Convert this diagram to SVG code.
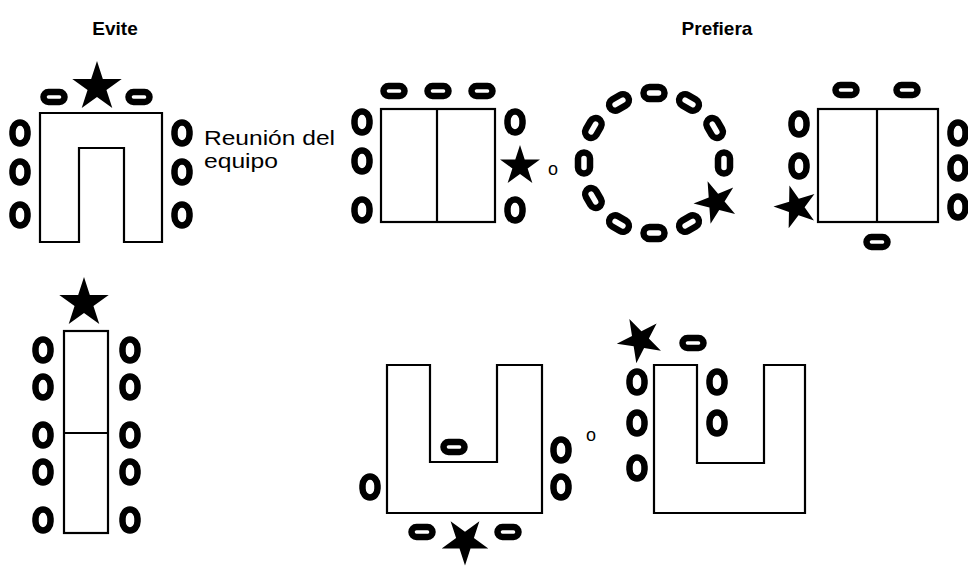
<svg xmlns="http://www.w3.org/2000/svg" xmlns:xlink="http://www.w3.org/1999/xlink" width="968" height="566" viewBox="0 0 968 566">
  <style>
    .table { fill: #fff; stroke: #000; stroke-width: 2.2; stroke-linejoin: miter; }
    .div { stroke: #000; stroke-width: 2.2; fill: none; }
    .seat { fill: #fff; stroke: #000; stroke-width: 6.5; }
    .star { fill: #000; stroke: none; }
    .title { font-family: "Liberation Sans", Arial, sans-serif; font-weight: bold; font-size: 19px; fill: #000; text-anchor: middle; }
    .label { font-family: "Liberation Sans", Arial, sans-serif; font-size: 21px; fill: #000; }
    .or { font-family: "Liberation Sans", Arial, sans-serif; font-size: 18px; fill: #000; text-anchor: middle; }
  </style>
  <defs>
    <!-- chair seen from above, long side horizontal -->
    <rect id="seat-h" class="seat" x="-10.5" y="-5" width="21" height="10" rx="5"/>
    <!-- chair seen from above, long side vertical -->
    <rect id="seat-v" class="seat" x="-7.5" y="-10.5" width="15" height="21" rx="7.5" ry="9"/>
    <!-- chair in the round arrangement (rotated per position) -->
    <rect id="seat-r" class="seat" x="-10.5" y="-6" width="21" height="12" rx="6"/>
    <!-- five-pointed star, outer radius 10 -->
    <path id="star" class="star" d="M0,-10 L2.245,-3.09 L9.511,-3.09 L3.633,1.18 L5.878,8.09 L0,3.82 L-5.878,8.09 L-3.633,1.18 L-9.511,-3.09 L-2.245,-3.09 Z"/>
  </defs>

  <!-- column headings -->
  <text class="title" x="115" y="35">Evite</text>
  <text class="title" x="717" y="35">Prefiera</text>

  <!-- open U table, leader at the closed end -->
  <g id="avoid-u">
    <path class="table" d="M40,113 H162 V242 H124 V148 H79 V242 H40 Z"/>
    <use xlink:href="#seat-h" x="54" y="97"/>
    <use xlink:href="#seat-h" x="139" y="97"/>
    <use xlink:href="#seat-v" x="20" y="133"/>
    <use xlink:href="#seat-v" x="20" y="172"/>
    <use xlink:href="#seat-v" x="20" y="215"/>
    <use xlink:href="#seat-v" x="182" y="133"/>
    <use xlink:href="#seat-v" x="182" y="172"/>
    <use xlink:href="#seat-v" x="182" y="215"/>
    <use xlink:href="#star" transform="translate(97,87) scale(2.6)"/>
  </g>

  <g id="team-label">
    <text class="label" x="204" y="145" textLength="131" lengthAdjust="spacingAndGlyphs">Reunión del</text>
    <text class="label" x="204" y="168" textLength="74" lengthAdjust="spacingAndGlyphs">equipo</text>
  </g>

  <!-- square table, leader at the side -->
  <g id="prefer-square">
    <rect class="table" x="381" y="109" width="114" height="113"/>
    <line class="div" x1="437" y1="109" x2="437" y2="222"/>
    <use xlink:href="#seat-h" x="394" y="91"/>
    <use xlink:href="#seat-h" x="438" y="91"/>
    <use xlink:href="#seat-h" x="482" y="91"/>
    <use xlink:href="#seat-v" x="362" y="122"/>
    <use xlink:href="#seat-v" x="362" y="161"/>
    <use xlink:href="#seat-v" x="362" y="210"/>
    <use xlink:href="#seat-v" x="515" y="122"/>
    <use xlink:href="#seat-v" x="515" y="210"/>
    <use xlink:href="#star" transform="translate(520,166) scale(2.1)"/>
  </g>
  <text class="or" x="553" y="175">o</text>

  <!-- round arrangement -->
  <g id="prefer-circle">
    <use xlink:href="#seat-r" transform="translate(654,93) rotate(0)"/>
    <use xlink:href="#seat-r" transform="translate(619,102.4) rotate(-30)"/>
    <use xlink:href="#seat-r" transform="translate(689,102.4) rotate(30)"/>
    <use xlink:href="#seat-r" transform="translate(593.4,128) rotate(-60)"/>
    <use xlink:href="#seat-r" transform="translate(714.6,128) rotate(60)"/>
    <use xlink:href="#seat-r" transform="translate(584,163) rotate(90)"/>
    <use xlink:href="#seat-r" transform="translate(724,163) rotate(90)"/>
    <use xlink:href="#seat-r" transform="translate(593.4,198) rotate(60)"/>
    <use xlink:href="#seat-r" transform="translate(619,223.6) rotate(30)"/>
    <use xlink:href="#seat-r" transform="translate(654,233) rotate(0)"/>
    <use xlink:href="#seat-r" transform="translate(689,223.6) rotate(-30)"/>
    <use xlink:href="#star" transform="translate(716,202) rotate(-22) scale(2.25)"/>
  </g>

  <!-- square table, leader at a corner -->
  <g id="prefer-square-corner">
    <rect class="table" x="818" y="109" width="120" height="113"/>
    <line class="div" x1="877" y1="109" x2="877" y2="222"/>
    <use xlink:href="#seat-h" x="846" y="90"/>
    <use xlink:href="#seat-h" x="907" y="90"/>
    <use xlink:href="#seat-h" x="877" y="242"/>
    <use xlink:href="#seat-v" x="799" y="124"/>
    <use xlink:href="#seat-v" x="799" y="166"/>
    <use xlink:href="#seat-v" x="958" y="133"/>
    <use xlink:href="#seat-v" x="958" y="168"/>
    <use xlink:href="#seat-v" x="958" y="207"/>
    <use xlink:href="#star" transform="translate(796,207) rotate(-17) scale(2.25)"/>
  </g>

  <!-- long table, leader at the head -->
  <g id="avoid-long">
    <rect class="table" x="64" y="331" width="44" height="202"/>
    <line class="div" x1="64" y1="433" x2="108" y2="433"/>
    <use xlink:href="#star" transform="translate(84,303) scale(2.6)"/>
    <use xlink:href="#seat-v" x="43" y="350"/>
    <use xlink:href="#seat-v" x="43" y="387"/>
    <use xlink:href="#seat-v" x="43" y="435"/>
    <use xlink:href="#seat-v" x="43" y="472"/>
    <use xlink:href="#seat-v" x="43" y="520"/>
    <use xlink:href="#seat-v" x="130" y="350"/>
    <use xlink:href="#seat-v" x="130" y="387"/>
    <use xlink:href="#seat-v" x="130" y="435"/>
    <use xlink:href="#seat-v" x="130" y="472"/>
    <use xlink:href="#seat-v" x="130" y="520"/>
  </g>

  <!-- U table, leader outside the base -->
  <g id="prefer-u-base">
    <path class="table" d="M387,365 H430 V462 H497 V365 H542 V513 H387 Z"/>
    <use xlink:href="#seat-h" x="454" y="447"/>
    <use xlink:href="#seat-v" x="370" y="487"/>
    <use xlink:href="#seat-v" x="561" y="450"/>
    <use xlink:href="#seat-v" x="561" y="487"/>
    <use xlink:href="#seat-h" x="422" y="532"/>
    <use xlink:href="#seat-h" x="508" y="532"/>
    <use xlink:href="#star" transform="translate(465,541) rotate(180) scale(2.45)"/>
  </g>
  <text class="or" x="591" y="441">o</text>

  <!-- U table, leader at an arm -->
  <g id="prefer-u-arm">
    <path class="table" d="M654,365 H697 V463 H764 V365 H805 V513 H654 Z"/>
    <use xlink:href="#seat-h" x="693" y="343"/>
    <use xlink:href="#seat-v" x="637" y="382"/>
    <use xlink:href="#seat-v" x="637" y="423"/>
    <use xlink:href="#seat-v" x="637" y="468"/>
    <use xlink:href="#seat-v" x="717" y="382"/>
    <use xlink:href="#seat-v" x="717" y="423"/>
    <use xlink:href="#star" transform="translate(640,340) rotate(-27) scale(2.35)"/>
  </g>
</svg>
